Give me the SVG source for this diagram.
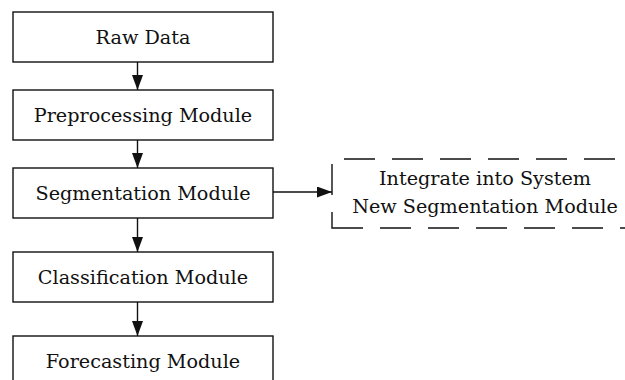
<svg xmlns="http://www.w3.org/2000/svg" width="625" height="380" viewBox="0 0 625 380">
<defs>
<style>
.box{fill:#fff;stroke:#111;stroke-width:1.4}
.lbl{font-family:"DejaVu Serif","Liberation Serif",serif;font-size:19.2px;fill:#111;text-anchor:middle}
.con{stroke:#111;stroke-width:1.4;fill:none}
.dash{fill:none;stroke:#111;stroke-width:1.4;stroke-dasharray:31 17}
</style>
<marker id="arr" markerWidth="15" markerHeight="11" refX="15" refY="5.5" orient="auto" markerUnits="userSpaceOnUse">
<path d="M0,0 L15,5.5 L0,11 Z" fill="#111"/>
</marker>
</defs>
<rect width="625" height="380" fill="#fff"/>
<g id="connectors">
<line class="con" x1="137.5" y1="62" x2="137.5" y2="90" marker-end="url(#arr)"/>
<line class="con" x1="137.5" y1="140" x2="137.5" y2="168" marker-end="url(#arr)"/>
<line class="con" x1="137.5" y1="218" x2="137.5" y2="252" marker-end="url(#arr)"/>
<line class="con" x1="137.5" y1="302" x2="137.5" y2="336" marker-end="url(#arr)"/>
<line class="con" x1="273" y1="192" x2="332" y2="192" marker-end="url(#arr)"/>
</g>
<g id="raw-data">
<rect class="box" x="13" y="12" width="260" height="50"/>
<text class="lbl" x="143" y="43.5">Raw Data</text>
</g>
<g id="preprocessing">
<rect class="box" x="13" y="90" width="260" height="50"/>
<text class="lbl" x="143" y="121.5">Preprocessing Module</text>
</g>
<g id="segmentation">
<rect class="box" x="13" y="168" width="260" height="50"/>
<text class="lbl" x="143" y="199.5">Segmentation Module</text>
</g>
<g id="classification">
<rect class="box" x="13" y="252" width="260" height="50"/>
<text class="lbl" x="143" y="283.5">Classification Module</text>
</g>
<g id="forecasting">
<rect class="box" x="13" y="336" width="260" height="50"/>
<text class="lbl" x="143" y="368">Forecasting Module</text>
</g>
<g id="integrate">
<path class="dash" d="M332,228 L631,228 L631,159 L332,159 Z"/>
<text class="lbl" x="485" y="185">Integrate into System</text>
<text class="lbl" x="485" y="213">New Segmentation Module</text>
</g>
</svg>
